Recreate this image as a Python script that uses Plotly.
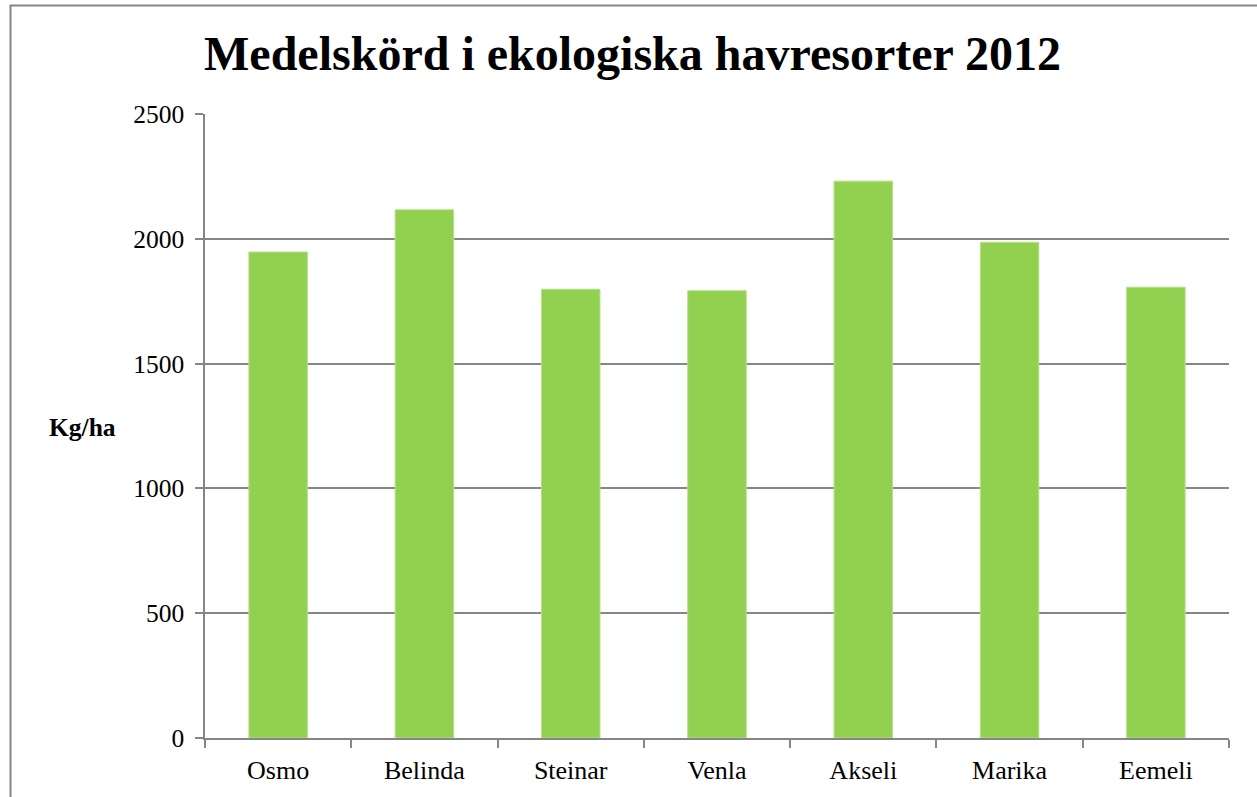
import plotly.graph_objects as go

categories = ["Osmo", "Belinda", "Steinar", "Venla", "Akseli", "Marika", "Eemeli"]
values = [1947, 2116, 1798, 1792, 2231, 1986, 1806]
y_ticks = [0, 500, 1000, 1500, 2000, 2500]

W, H = 1257, 797
L, R, T, B = 205, 28, 114, 59
pw = W - L - R
ph = H - T - B

def px_x(p):
    return (p - L) / pw

def px_y(p):
    return (H - B - p) / ph

GRAY = "#868686"
FONT = "Liberation Serif, Times New Roman, serif"

fig = go.Figure(
    go.Bar(x=categories, y=values, marker=dict(color="#92D050", line=dict(color="#B5E08A", width=1)))
)

fig.update_layout(
    width=W, height=H, autosize=False,
    margin=dict(l=L, r=R, t=T, b=B, pad=0),
    paper_bgcolor="white", plot_bgcolor="white",
    bargap=0.6,
    showlegend=False,
    font=dict(family=FONT, size=25.5, color="black"),
    title=dict(
        text="<b>Medelskörd i ekologiska havresorter 2012</b>",
        font=dict(family=FONT, size=48, color="black"),
        x=px_x(632.5), xref="paper", xanchor="center",
        y=1 - 53.5 / H, yref="container", yanchor="middle",
    ),
    xaxis=dict(
        type="category", tickson="boundaries", ticks="outside", ticklen=8,
        tickcolor=GRAY, tickwidth=1.5, showline=True, linecolor=GRAY, linewidth=1.5,
        showgrid=False, zeroline=False, ticklabelstandoff=8,
        tickfont=dict(family=FONT, size=26, color="black"),
    ),
    yaxis=dict(
        range=[0, 2500], tickvals=y_ticks, ticks="outside", ticklen=8,
        tickcolor=GRAY, tickwidth=1.5, showline=True, linecolor=GRAY, linewidth=1.5,
        showgrid=True, gridcolor=GRAY, gridwidth=1.5, zeroline=False,
        ticklabelstandoff=6,
        tickfont=dict(family=FONT, size=25.5, color="black"),
    ),
    annotations=[
        dict(text="<b>Kg/ha</b>", x=px_x(82), y=px_y(427), xref="paper", yref="paper",
             xanchor="center", yanchor="middle", showarrow=False,
             font=dict(family=FONT, size=25.5, color="black")),
    ],
    shapes=[
        dict(type="rect", xref="paper", yref="paper",
             x0=px_x(10.5), x1=px_x(1300), y0=px_y(5.5), y1=px_y(840),
             line=dict(color=GRAY, width=2), fillcolor="rgba(0,0,0,0)", layer="below"),
    ],
)

fig.write_html(
    "out.html",
    config={"displayModeBar": False},
    post_script="document.body.style.margin='0';document.body.style.overflow='hidden';",
)
